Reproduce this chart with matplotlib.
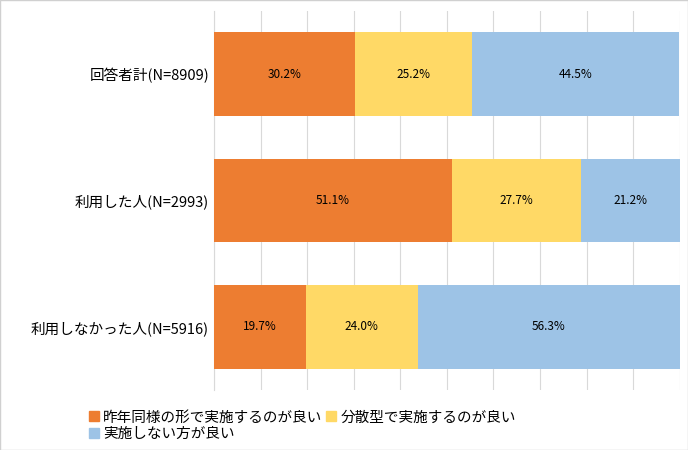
import matplotlib
matplotlib.use("Agg")
import matplotlib.pyplot as plt
from matplotlib.patches import Patch

plt.rcParams["font.family"] = "Noto Sans CJK JP"

categories = ["回答者計(N=8909)", "利用した人(N=2993)", "利用しなかった人(N=5916)"]
series_names = ["昨年同様の形で実施するのが良い", "分散型で実施するのが良い", "実施しない方が良い"]
same = [30.2, 51.1, 19.7]
split = [25.2, 27.7, 24.0]
none = [44.5, 21.2, 56.3]
colors = ["#ED7D31", "#FFD966", "#9DC3E6"]

fig = plt.figure(figsize=(6.88, 4.5), dpi=100)
fig.patches.append(plt.Rectangle((0, 0), 1, 1, transform=fig.transFigure,
                                 fill=False, edgecolor="#d0d0d0", lw=1))
ax = fig.add_axes([0.311, 0.133, 0.677, 0.843])
ys = list(range(len(categories)))
left = [0] * len(categories)
for vals, c in zip([same, split, none], colors):
    bars = ax.barh(ys, vals, left=left, color=c, height=0.66, zorder=3)
    for y, v, l in zip(ys, vals, left):
        ax.text(l + v / 2, y, f"{v:.1f}%", ha="center", va="center", fontsize=8.5, zorder=4)
    left = [a + b for a, b in zip(left, vals)]
ax.set_xlim(0, 100)
ax.set_ylim(2.5, -0.5)
ax.set_xticks(range(0, 101, 10))
ax.set_xticklabels([])
ax.tick_params(axis="x", length=0)
ax.tick_params(axis="y", length=0, labelsize=10.5)
ax.set_yticks(ys)
ax.set_yticklabels(categories)
ax.grid(axis="x", color="#d9d9d9", lw=0.8, zorder=0)
for s in ["top", "right", "bottom"]:
    ax.spines[s].set_visible(False)
ax.spines["left"].set_color("#d9d9d9")

h = [Patch(color=c) for c in colors]
fig.legend([h[0], h[2], h[1]], [series_names[0], series_names[2], series_names[1]],
           ncol=2, loc="lower left", bbox_to_anchor=(0.11, -0.01), frameon=False,
           fontsize=10.5, handlelength=0.7, handleheight=0.7, handletextpad=0.3,
           columnspacing=0.2, labelspacing=0.2)
fig.savefig("out.png", dpi=100)
